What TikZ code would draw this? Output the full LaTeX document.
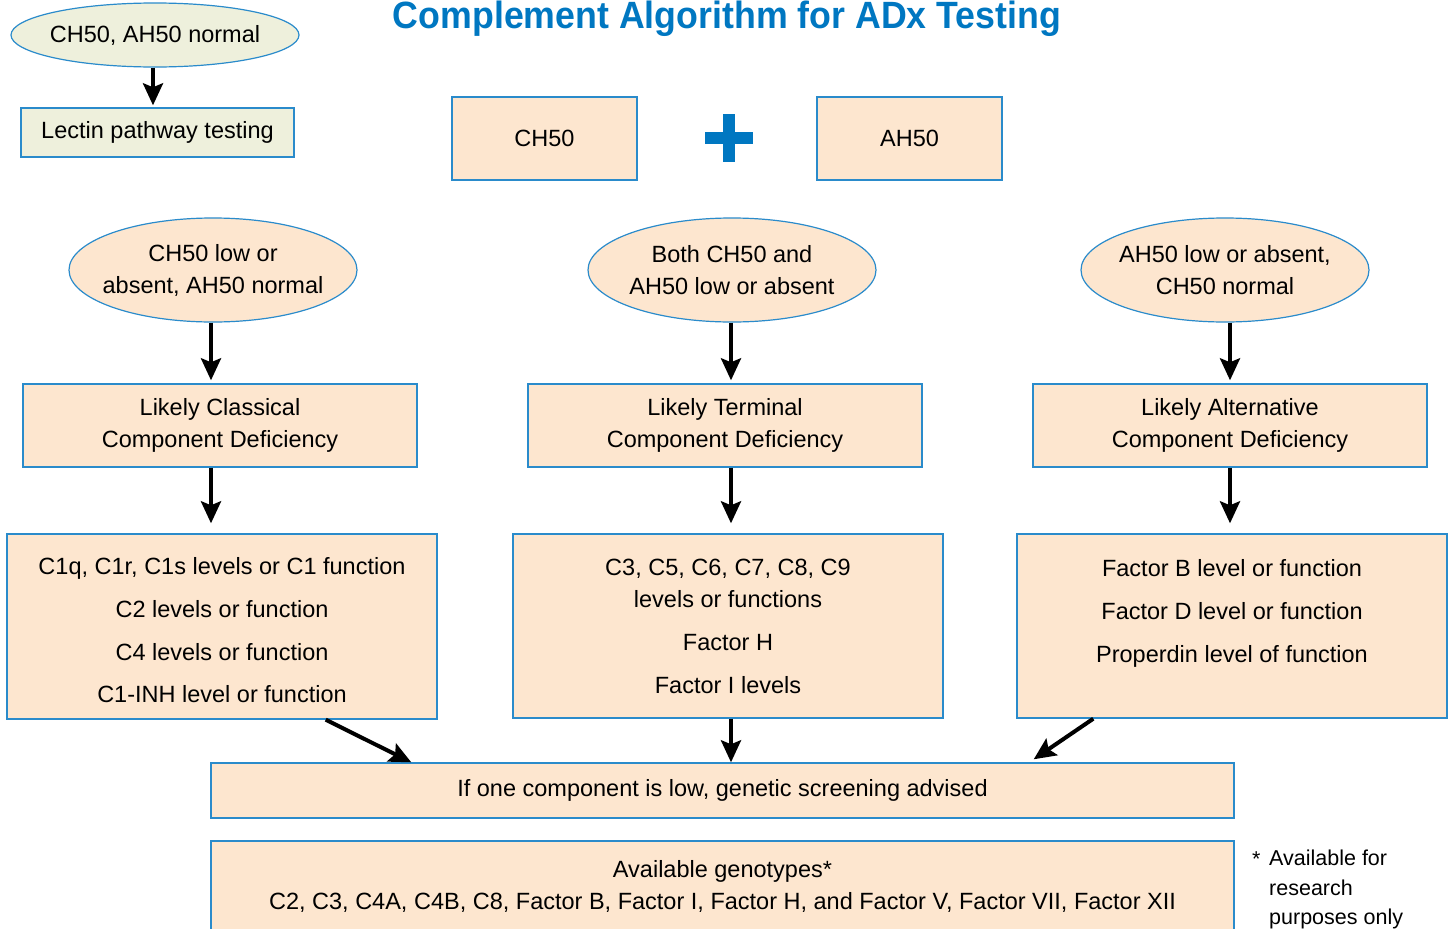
\documentclass[tikz,border=0pt]{standalone}
\usepackage{fontspec}
\setmainfont{Liberation Sans}
\newfontfamily\titlefont[FakeStretch=0.94]{Liberation Sans Bold}
\usetikzlibrary{arrows.meta,shapes.geometric,calc}
\definecolor{peach}{HTML}{FDE6CF}
\definecolor{pale}{HTML}{EEF0DC}
\definecolor{bord}{HTML}{2A8BCB}
\definecolor{titleblue}{HTML}{0077C1}
\tikzset{
  box/.style={draw=bord,line width=1.4pt,fill=peach,rectangle,inner sep=0pt,align=center,font=\fontsize{23.5}{32}\selectfont},
  ell/.style={draw=bord,line width=1.2pt,fill=peach,ellipse,inner xsep=-40pt,inner ysep=-20pt,align=center,font=\fontsize{23.5}{32}\selectfont},
  txt/.style={inner sep=0pt,align=center,font=\fontsize{23.5}{32}\selectfont},
  arr/.style={line width=4pt,-{Stealth[length=22pt,width=20pt,inset=4pt]}},
}
\begin{document}
\begin{tikzpicture}[x=1pt,y=-1pt]
\useasboundingbox (0,0) rectangle (1452,929);
% title
\node[anchor=base,inner sep=0pt,text=titleblue,font=\titlefont\fontsize{38}{40}\selectfont] (title) at (727,28) {Complement Algorithm for ADx Testing};
% top-left
\node[ell,fill=pale,minimum width=288pt,minimum height=64pt] (e0) at (155,35) {CH50, AH50 normal};
\node[box,fill=pale,minimum width=273pt,minimum height=49pt] (lec) at (157.5,132.5) {Lectin pathway testing};
\draw[arr,shorten >=2pt] ([xshift=-2pt]e0.south) -- ([xshift=-2pt]e0.south |- lec.north);
% CH50 + AH50
\node[box,minimum width=185pt,minimum height=83pt] (ch) at (544.5,138.5) {CH50};
\node[box,minimum width=185pt,minimum height=83pt] (ah) at (909.5,138.5) {AH50};
\fill[titleblue] (704.5,131.5) rectangle (752.5,143.5);
\fill[titleblue] (722.5,113.5) rectangle (734.5,161.5);
% ellipses row 2
\node[ell,minimum width=288pt,minimum height=104pt] (e1) at (213,270) {CH50 low or\\absent, AH50 normal};
\node[ell,minimum width=288pt,minimum height=104pt] (e2) at (732,270) {Both CH50 and\\AH50 low or absent};
\node[ell,minimum width=288pt,minimum height=104pt] (e3) at (1225,270) {AH50 low or absent,\\CH50 normal};
% row 3
\node[box,minimum width=394pt,minimum height=83pt] (b1) at (220,425.5) {Likely Classical\\Component Deficiency};
\node[box,minimum width=394pt,minimum height=83pt] (b2) at (725,425.5) {Likely Terminal\\Component Deficiency};
\node[box,minimum width=394pt,minimum height=83pt] (b3) at (1230,425.5) {Likely Alternative\\Component Deficiency};
\draw[arr,shorten >=3pt] ([xshift=-2pt]e1.south) -- ([xshift=-2pt]e1.south |- b1.north);
\draw[arr,shorten >=3pt] ([xshift=-1pt]e2.south) -- ([xshift=-1pt]e2.south |- b2.north);
\draw[arr,shorten >=3pt] ([xshift=5pt]e3.south) -- ([xshift=5pt]e3.south |- b3.north);
% row 4
\node[box,minimum width=430pt,minimum height=185pt] (c1) at (222,626.5) {};
\node[txt,font=\fontsize{23.5}{42.7}\selectfont] (c1t) at (222,630.5) {C1q, C1r, C1s levels or C1 function\\C2 levels or function\\C4 levels or function\\C1-INH level or function};
\node[box,minimum width=430pt,minimum height=184pt] (c2) at (728,626) {C3, C5, C6, C7, C8, C9\\levels or functions\\[11pt]Factor H\\[11pt]Factor I levels};
\node[box,minimum width=430pt,minimum height=184pt] (c3) at (1232,626) {};
\node[txt,font=\fontsize{23.5}{43}\selectfont] (c3t) at (1232,613) {Factor B level or function\\Factor D level or function\\Properdin level of function};
\draw[arr,shorten >=10pt] ([xshift=-9pt]b1.south) -- ([xshift=-9pt]b1.south |- c1.north);
\draw[arr,shorten >=10pt] ([xshift=6pt]b2.south) -- ([xshift=6pt]b2.south |- c2.north);
\draw[arr,shorten >=10pt] (b3.south) -- (b3.south |- c3.north);
% bottom
\node[box,minimum width=1023pt,minimum height=55pt] (gen) at (722.5,790.5) {If one component is low, genetic screening advised};
\node[box,minimum width=1023pt,minimum height=109pt] (geno) at (722.5,895.5) {};
\node[txt] (genot) at (722.5,886) {Available genotypes*\\C2, C3, C4A, C4B, C8, Factor B, Factor I, Factor H, and Factor V, Factor VII, Factor XII};
\draw[arr] ([xshift=-112pt]c1.south east) -- ([xshift=201pt]gen.north west);
\draw[arr] ([xshift=3pt]c2.south) -- ([xshift=3pt]c2.south |- gen.north);
\draw[arr] ([xshift=77pt]c3.south west) -- ([xshift=-201pt,yshift=3pt]gen.north east);
% footnote
\node[anchor=base west,inner sep=0pt,font=\fontsize{21.5}{29.5}\selectfont] (ast) at (1252,866) {*};
\node[anchor=north west,inner sep=0pt,align=left,font=\fontsize{21.5}{29.5}\selectfont] (foot) at (1269,850) {Available for\\research\\purposes only};
\end{tikzpicture}
\end{document}
